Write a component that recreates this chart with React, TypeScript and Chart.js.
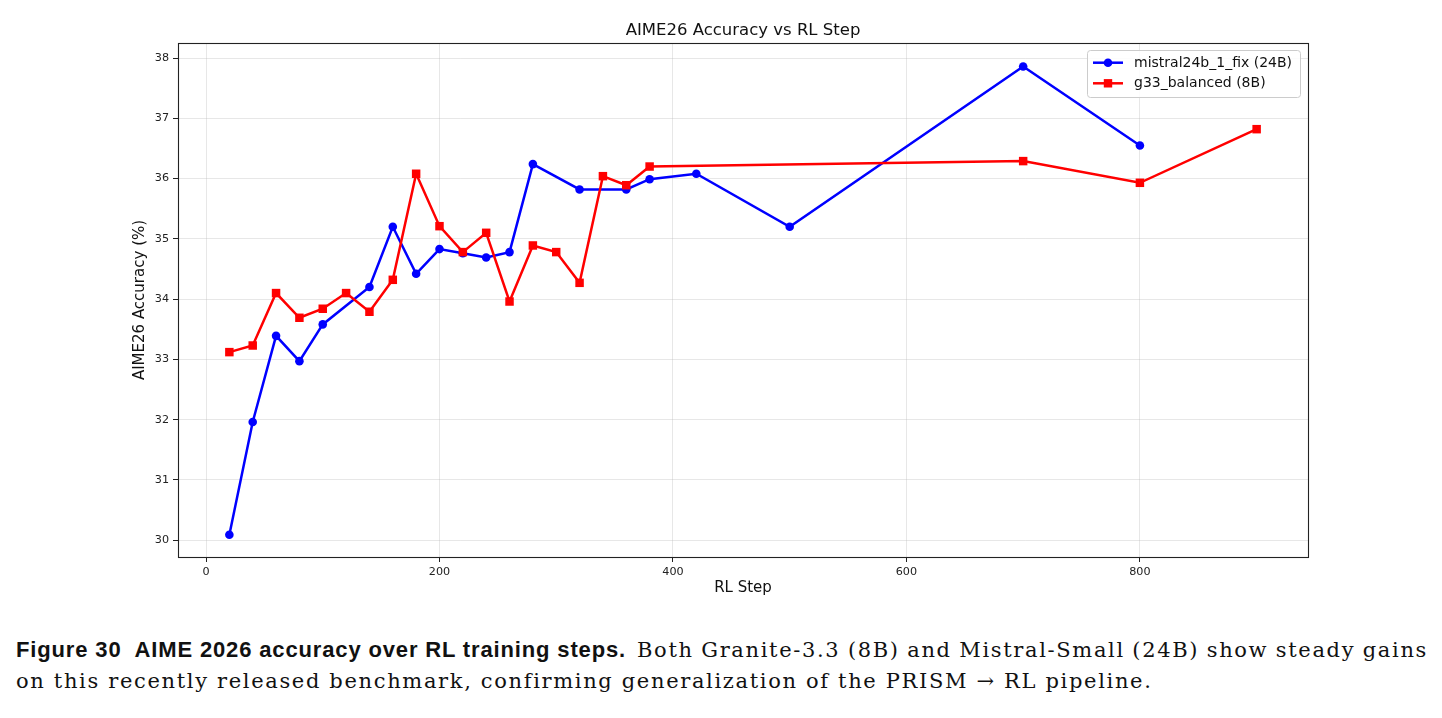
import React, { useEffect, useLayoutEffect, useRef } from "react";
import { Chart, registerables } from "chart.js";

Chart.register(...registerables);

const chartTitle = "AIME26 Accuracy vs RL Step";
const xAxisLabel = "RL Step";
const yAxisLabel = "AIME26 Accuracy (%)";

const xTicks = [0, 200, 400, 600, 800];
const yTicks = [30, 31, 32, 33, 34, 35, 36, 37, 38];

const mistralLabel = "mistral24b_1_fix (24B)";
const mistralSteps = [20, 40, 60, 80, 100, 140, 160, 180, 200, 220, 240, 260, 280, 320, 360, 380, 420, 500, 700, 800];
const mistralAcc = [30.09, 31.96, 33.39, 32.97, 33.58, 34.2, 35.2, 34.42, 34.83, 34.76, 34.69, 34.78, 36.24, 35.82, 35.82, 35.99, 36.08, 35.2, 37.86, 36.55];

const graniteLabel = "g33_balanced (8B)";
const graniteSteps = [20, 40, 60, 80, 100, 120, 140, 160, 180, 200, 220, 240, 260, 280, 300, 320, 340, 360, 380, 700, 800, 900];
const graniteAcc = [33.12, 33.23, 34.1, 33.69, 33.84, 34.1, 33.79, 34.32, 36.08, 35.21, 34.78, 35.1, 33.96, 34.89, 34.78, 34.27, 36.04, 35.89, 36.2, 36.29, 35.93, 36.82];

const captionBold = "Figure 30  AIME 2026 accuracy over RL training steps.";
const captionLine1 = "Both Granite-3.3 (8B) and Mistral-Small (24B) show steady gains";
const captionLine2 = "on this recently released benchmark, confirming generalization of the PRISM \u2192 RL pipeline.";

const FONT = "'DejaVu Sans', sans-serif";
const SERIF = "'DejaVu Serif', serif";
const BLUE = "#0000ff";
const RED = "#ff0000";

const W = 1442;
const H = 620;
const PLOT = { left: 178, right: 1308, top: 43, bottom: 557 };

export default function App() {
  const canvasRef = useRef<HTMLCanvasElement | null>(null);
  const boldRef = useRef<HTMLSpanElement | null>(null);
  const line2Ref = useRef<HTMLDivElement | null>(null);
  const serif1Ref = useRef<HTMLSpanElement | null>(null);

  useLayoutEffect(() => {
    const fit = (el: HTMLElement | null, target: number) => {
      if (!el) return 0;
      el.style.letterSpacing = "0px";
      const w = el.getBoundingClientRect().width;
      const n = (el.textContent || "").length;
      const ls = (target - w) / n;
      el.style.letterSpacing = `${ls}px`;
      return ls;
    };
    fit(boldRef.current, 610);
    const ls = fit(line2Ref.current, 1136);
    const s1 = serif1Ref.current;
    const b = boldRef.current;
    if (s1 && b) {
      s1.style.letterSpacing = `${ls}px`;
      s1.style.wordSpacing = "0px";
      const avail = 1428 - b.getBoundingClientRect().right - 11;
      const w = s1.getBoundingClientRect().width;
      const spaces = (s1.textContent || "").split(" ").length - 1;
      s1.style.wordSpacing = `${(avail - w) / spaces}px`;
    }
  }, []);

  useEffect(() => {
    const canvas = canvasRef.current;
    if (!canvas) return;

    const overlay = {
      id: "overlay",
      afterDatasetsDraw(chart: any) {
        const { ctx, chartArea } = chart;
        ctx.save();
        ctx.strokeStyle = "#222";
        ctx.lineWidth = 1.1;
        ctx.strokeRect(
          Math.round(chartArea.left) + 0.5,
          Math.round(chartArea.top) + 0.5,
          Math.round(chartArea.right - chartArea.left),
          Math.round(chartArea.bottom - chartArea.top)
        );
        ctx.restore();
      },
      afterDraw(chart: any) {
        const { ctx, chartArea } = chart;
        ctx.save();
        ctx.fillStyle = "#111";
        ctx.font = `16.5px ${FONT}`;
        ctx.textAlign = "center";
        ctx.textBaseline = "middle";
        ctx.fillText(chartTitle, (chartArea.left + chartArea.right) / 2, 31);

        const bx = 1087.5, by = 50.5, bw = 213, bh = 47;
        ctx.beginPath();
        ctx.roundRect(bx, by, bw, bh, 3);
        ctx.fillStyle = "rgba(255,255,255,0.85)";
        ctx.fill();
        ctx.strokeStyle = "#cccccc";
        ctx.lineWidth = 1;
        ctx.stroke();

        const rows = [
          { label: mistralLabel, color: BLUE, y: 62.7, marker: "circle" },
          { label: graniteLabel, color: RED, y: 83.3, marker: "square" },
        ];
        rows.forEach((r) => {
          ctx.strokeStyle = r.color;
          ctx.lineWidth = 2.5;
          ctx.beginPath();
          ctx.moveTo(1093, r.y);
          ctx.lineTo(1123, r.y);
          ctx.stroke();
          ctx.fillStyle = r.color;
          if (r.marker === "circle") {
            ctx.beginPath();
            ctx.arc(1108, r.y, 4.3, 0, Math.PI * 2);
            ctx.fill();
          } else {
            ctx.fillRect(1108 - 4.2, r.y - 4.2, 8.4, 8.4);
          }
          ctx.fillStyle = "#111";
          ctx.font = `14px ${FONT}`;
          ctx.textAlign = "left";
          ctx.textBaseline = "middle";
          ctx.fillText(r.label, 1134, r.y + 0.5);
        });
        ctx.restore();
      },
    };

    const chart = new Chart(canvas, {
      type: "line",
      data: {
        datasets: [
          {
            label: mistralLabel,
            data: mistralSteps.map((s, i) => ({ x: s, y: mistralAcc[i] })),
            borderColor: BLUE,
            backgroundColor: BLUE,
            borderWidth: 2.5,
            pointStyle: "circle",
            pointRadius: 4.3,
            pointBorderWidth: 0,
            pointBackgroundColor: BLUE,
            tension: 0,
            order: 1,
          },
          {
            label: graniteLabel,
            data: graniteSteps.map((s, i) => ({ x: s, y: graniteAcc[i] })),
            borderColor: RED,
            backgroundColor: RED,
            borderWidth: 2.5,
            pointStyle: "rect",
            pointRadius: 6,
            pointBorderWidth: 0,
            pointBackgroundColor: RED,
            tension: 0,
            order: 0,
          },
        ],
      },
      options: {
        responsive: false,
        animation: false,
        devicePixelRatio: 1,
        layout: {
          padding: {
            left: PLOT.left - 60,
            right: W - PLOT.right,
            top: PLOT.top,
            bottom: H - PLOT.bottom - 50,
          },
        },
        plugins: {
          legend: { display: false },
          title: { display: false },
          tooltip: { enabled: false },
        },
        scales: {
          x: {
            type: "linear",
            min: -24,
            max: 944,
            afterBuildTicks: (s: any) => {
              s.ticks = xTicks.map((v) => ({ value: v }));
            },
            afterFit: (s: any) => {
              s.height = 50;
            },
            ticks: {
              font: { family: FONT, size: 11.2 },
              color: "#222",
              padding: 3,
              maxRotation: 0,
              autoSkip: false,
              callback: (v: any) => String(v),
            },
            grid: {
              color: "rgba(176,176,176,0.3)",
              lineWidth: 1,
              drawTicks: true,
              tickLength: 5,
              tickColor: "#222",
            },
            border: { display: false },
            title: {
              display: true,
              text: xAxisLabel,
              color: "#111",
              font: { family: FONT, size: 15 },
              padding: { top: 0, bottom: 10 },
            },
          },
          y: {
            type: "linear",
            min: 29.72,
            max: 38.25,
            afterBuildTicks: (s: any) => {
              s.ticks = yTicks.map((v) => ({ value: v }));
            },
            afterFit: (s: any) => {
              s.width = 60;
            },
            ticks: {
              font: { family: FONT, size: 11.2 },
              color: "#222",
              padding: 4,
              callback: (v: any) => String(v),
            },
            grid: {
              color: "rgba(176,176,176,0.3)",
              lineWidth: 1,
              drawTicks: true,
              tickLength: 5,
              tickColor: "#222",
            },
            border: { display: false },
            title: {
              display: true,
              text: yAxisLabel,
              color: "#111",
              font: { family: FONT, size: 15 },
              padding: { top: 13, bottom: 0 },
            },
          },
        },
      },
      plugins: [overlay],
    });

    return () => chart.destroy();
  }, []);

  return (
    <div
      style={{
        position: "absolute",
        left: 0,
        top: 0,
        width: W,
        height: 718,
        background: "#fff",
        overflow: "hidden",
      }}
    >
      <canvas ref={canvasRef} width={W} height={H} style={{ display: "block" }} />
      <div
        style={{
          position: "absolute",
          left: 16,
          top: 637,
          width: 1430,
          color: "#111",
          whiteSpace: "nowrap",
          lineHeight: "26px",
        }}
      >
        <span
          ref={boldRef}
          style={{ fontFamily: "'Liberation Sans', sans-serif", fontWeight: 700, fontSize: 22, whiteSpace: "pre" }}
        >
          {captionBold}
        </span>
        <span
          ref={serif1Ref}
          style={{
            marginLeft: 11,
            fontFamily: SERIF,
            fontSize: 21,
            whiteSpace: "pre",
          }}
        >
          {captionLine1}
        </span>
      </div>
      <div
        ref={line2Ref}
        style={{
          position: "absolute",
          left: 16,
          top: 668,
          fontFamily: SERIF,
          fontSize: 21,
          lineHeight: "26px",
          color: "#111",
          whiteSpace: "pre",
        }}
      >
        {captionLine2}
      </div>
    </div>
  );
}
